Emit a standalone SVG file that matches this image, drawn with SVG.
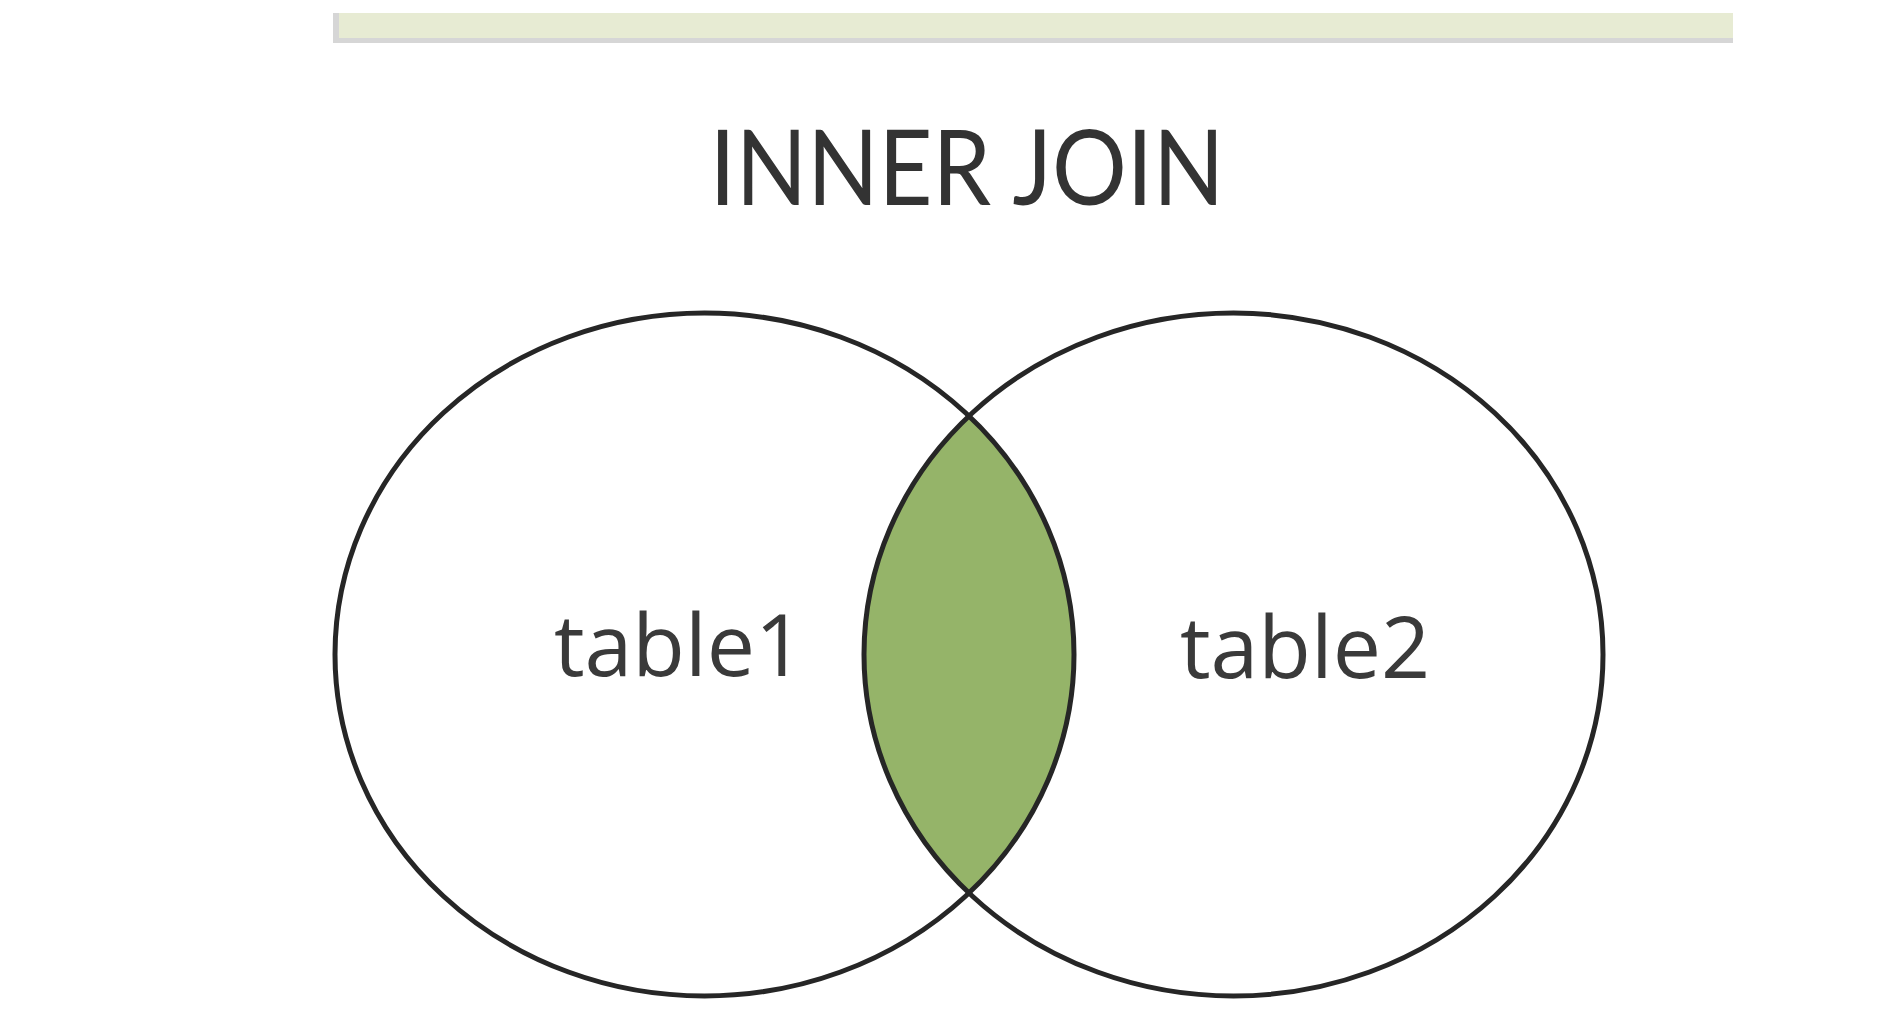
<svg xmlns="http://www.w3.org/2000/svg" width="1882" height="1032" viewBox="0 0 1882 1032">
  <style>
    .set { fill: none; stroke: #262626; stroke-width: 5; }
    .lbl { font-family: "Open Sans", "Noto Sans", sans-serif; fill: #3a3a3a; }
    .ttl { font-family: "Lato", "Open Sans", sans-serif; fill: #333333; }
  </style>
  <rect x="0" y="0" width="1882" height="1032" fill="#ffffff"/>
  <g id="topbar">
    <rect x="333" y="13" width="1400" height="30" fill="#d6d6d6"/>
    <rect x="339" y="13" width="1394" height="25" fill="#e7ebd3"/>
  </g>
  <g id="title">
    <text class="ttl" x="967" y="205" font-size="104" text-anchor="middle" textLength="515" lengthAdjust="spacingAndGlyphs">INNER JOIN</text>
  </g>
  <g id="intersection">
    <path d="M969,415.5 A369.5,341.5 0 0,0 969,893.5 A369.5,341.5 0 0,0 969,415.5 Z" fill="#95b469"/>
  </g>
  <g id="table1">
    <ellipse class="set" cx="704.5" cy="654.5" rx="369.5" ry="341.5"/>
    <text class="lbl" x="679" y="676" font-size="86" text-anchor="middle">table1</text>
  </g>
  <g id="table2">
    <ellipse class="set" cx="1233.5" cy="654.5" rx="369.5" ry="341.5"/>
    <text class="lbl" x="1305" y="678" font-size="86" text-anchor="middle">table2</text>
  </g>
  <g id="connectors"></g>
</svg>
